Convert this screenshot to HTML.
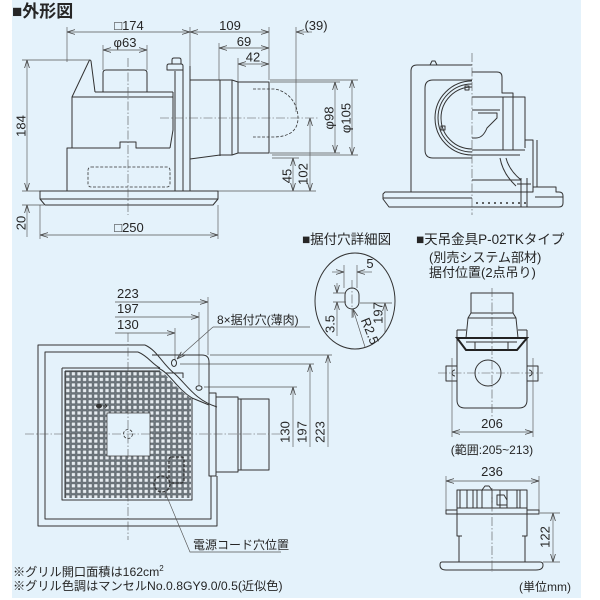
<!DOCTYPE html>
<html><head><meta charset="utf-8">
<style>
html,body{margin:0;padding:0;background:#fff;width:600px;height:600px;overflow:hidden}
svg{display:block}
text{font-family:"Liberation Sans","Noto Sans CJK JP",sans-serif;fill:#262626}
.n{font-size:13px}
.o{fill:none;stroke:#333;stroke-width:1;stroke-linejoin:round}
.d{fill:none;stroke:#555;stroke-width:0.65}
.c{fill:none;stroke:#555;stroke-width:0.6;stroke-dasharray:9 2 1.5 2}
.h{fill:none;stroke:#333;stroke-width:0.8;stroke-dasharray:3 1.6}
</style></head><body>
<svg width="600" height="600" viewBox="0 0 600 600" xmlns="http://www.w3.org/2000/svg">
<defs>
<marker id="a" viewBox="0 0 8 6" refX="8" refY="3" markerWidth="8" markerHeight="6" orient="auto-start-reverse" markerUnits="userSpaceOnUse"><path d="M0,0.6 L8,3 L0,5.4" fill="none" stroke="#444" stroke-width="0.8"/></marker>
<pattern id="g" x="65" y="371" width="5.6" height="5.6" patternUnits="userSpaceOnUse"><rect x="0.6" y="0.6" width="4.4" height="4.4" fill="#e6ecf0" stroke="#5f676d" stroke-width="1.1"/></pattern>
<clipPath id="gc"><path d="M65,371H160C166,374 170,380 176,386C181,391 186,395 191,398V498H65Z"/></clipPath>
</defs>

<rect x="12" y="0" width="569" height="598" fill="#e4f2fb"/>

<text x="12" y="17" font-size="17" font-weight="bold">■外形図</text>

<!-- ===== FRONT VIEW ===== -->
<path class="d" d="M67,27V62 M190,27V66 M269,27V80 M296,27V112 M103,45V70 M147,45V70 M219,43V80 M238,58V82"/>
<line class="d" x1="67" y1="32" x2="190" y2="32" marker-start="url(#a)" marker-end="url(#a)"/>
<text x="129" y="30" class="n" text-anchor="middle">□174</text>
<line class="d" x1="190" y1="32" x2="269" y2="32" marker-start="url(#a)" marker-end="url(#a)"/>
<text x="230" y="30" class="n" text-anchor="middle">109</text>
<line class="d" x1="312" y1="32" x2="296" y2="32" marker-end="url(#a)"/>
<text x="316" y="30" class="n" text-anchor="middle">(39)</text>
<line class="d" x1="219" y1="48" x2="269" y2="48" marker-start="url(#a)" marker-end="url(#a)"/>
<text x="244" y="46" class="n" text-anchor="middle">69</text>
<line class="d" x1="238" y1="64" x2="269" y2="64" marker-start="url(#a)" marker-end="url(#a)"/>
<text x="253" y="61.5" class="n" text-anchor="middle">42</text>
<line class="d" x1="103" y1="50" x2="147" y2="50" marker-start="url(#a)" marker-end="url(#a)"/>
<text x="125" y="47" class="n" text-anchor="middle">φ63</text>

<path class="d" d="M22,60H90 M22,191H40 M22,205H44 M40,205V239 M218,205V239"/>
<line class="d" x1="27" y1="60" x2="27" y2="191" marker-start="url(#a)" marker-end="url(#a)"/>
<line class="d" x1="27" y1="237" x2="27" y2="205" marker-end="url(#a)"/>
<text transform="translate(21,126) rotate(-90)" y="4.5" class="n" text-anchor="middle">184</text>
<text transform="translate(21,223) rotate(-90)" y="4.5" class="n" text-anchor="middle">20</text>
<line class="d" x1="40" y1="235" x2="218" y2="235" marker-start="url(#a)" marker-end="url(#a)"/>
<text x="129" y="232" class="n" text-anchor="middle">□250</text>

<path class="d" d="M270,80H358 M270,82H340 M270,153H340 M272,155H358 M272,158H299 M218,191H316"/>
<line class="d" x1="335" y1="82" x2="335" y2="153" marker-start="url(#a)" marker-end="url(#a)"/>
<line class="d" x1="352" y1="80" x2="352" y2="155" marker-start="url(#a)" marker-end="url(#a)"/>
<line class="d" x1="293" y1="158" x2="293" y2="191" marker-start="url(#a)" marker-end="url(#a)"/>
<line class="d" x1="310" y1="118" x2="310" y2="191" marker-start="url(#a)" marker-end="url(#a)"/>
<text transform="translate(329,118) rotate(-90)" y="4.5" class="n" text-anchor="middle">φ98</text>
<text transform="translate(346,118) rotate(-90)" y="4.5" class="n" text-anchor="middle">φ105</text>
<text transform="translate(287,176) rotate(-90)" y="4.5" class="n" text-anchor="middle">45</text>
<text transform="translate(303,174) rotate(-90)" y="4.5" class="n" text-anchor="middle">102</text>

<g class="o">
<path d="M72,148V97L89,61Q90,59 91,61L95,92"/>
<path d="M95,92H173 M72,97H173"/>
<path d="M103,92V73Q103,70 106,70H144Q147,70 147,73V92"/>
<path d="M173,92V130L170,148"/>
<path d="M67,191V148H120V142H136V148H170"/>
<path d="M175,191V71 M183,191V70 M190,191V66"/>
<path d="M167,70V66Q167,64 169,64H181Q183,64 183,66V70Z"/>
<path d="M172,64V60Q172,58 174,58H179Q181,58 181,60V64"/>
<path d="M40,191H218V199L213,205H45L40,199Z M40,199H218"/>
<path d="M190,80H232L238,82H269V153H238L232,155H220L190,159"/>
<path d="M220,80V156 M232,80V155 M238,82V153"/>
</g>
<rect class="h" x="88" y="167" width="82" height="20" rx="3"/>
<path class="h" d="M253,89H275C290,92 298,105 298,118C298,130 290,137 273,137H253"/>
<line class="c" x1="128" y1="58" x2="128" y2="215"/>
<line class="c" x1="160" y1="118" x2="318" y2="118"/>

<!-- ===== SIDE VIEW ===== -->
<g class="o">
<path d="M472,65H417Q411,65 411,71V192"/>
<path d="M430,65L432,61H435L437,65"/>
<path d="M472,80H433Q425,80 425,88V150Q425,158 433,158H472"/>
<path d="M472,81A37,37 0 0 0 472,155 M472,84A34,34 0 0 0 472,152 M472,87A31,31 0 0 0 472,149"/>
<path d="M465,86h4v4h-4z M441,126h4v4h-4z"/>
<path d="M472,192H385L383,194V199L389,207H472 M383,198H472"/>
<path d="M472,72H497Q502,72 502,77V93H513V97H525V140H533V187"/>
<path d="M472,97H513 M472,110H500 M503,97V150 M513,97V150"/>
<path d="M478,113H497V118L487,128Q483,138 476,138H472"/>
<path d="M472,150H525 M472,155H520 M472,180H521"/>
<path d="M500,158Q503,174 516,186 M506,158Q509,170 521,180"/>
<path d="M537,140V187 M525,140V148"/>
<path d="M472,192H533V187H556V192H559Q563,192 563,196V203Q563,207 559,207H472 M535,197H563"/>
<path d="M521,178V207 M527,178V207 M517,184H531"/>
</g>
<path d="M476,203H530" stroke="#333" stroke-width="1.4" stroke-dasharray="2 4" fill="none"/>
<line class="c" x1="472" y1="53" x2="472" y2="215"/>

<!-- ===== BOTTOM VIEW ===== -->
<text x="117" y="298" class="n">223</text>
<line class="d" x1="115" y1="302" x2="208" y2="302" marker-end="url(#a)"/>
<text x="117" y="313" class="n">197</text>
<line class="d" x1="115" y1="317" x2="199" y2="317" marker-end="url(#a)"/>
<text x="117" y="329" class="n">130</text>
<line class="d" x1="115" y1="333" x2="175" y2="333" marker-end="url(#a)"/>
<path class="d" d="M208,297V355 M199,312V386 M175,328V360"/>

<path class="d" d="M210,355H332 M180,364H314 M204,387H297"/>
<line class="d" x1="328" y1="447" x2="328" y2="355" marker-end="url(#a)"/>
<line class="d" x1="310" y1="447" x2="310" y2="364" marker-end="url(#a)"/>
<line class="d" x1="293" y1="447" x2="293" y2="387" marker-end="url(#a)"/>
<text transform="translate(285,432) rotate(-90)" y="4.5" class="n" text-anchor="middle">130</text>
<text transform="translate(302,432) rotate(-90)" y="4.5" class="n" text-anchor="middle">197</text>
<text transform="translate(320,432) rotate(-90)" y="4.5" class="n" text-anchor="middle">223</text>

<text x="217" y="324" font-size="12">8×据付穴(薄肉)</text>
<path class="d" d="M213,327H310"/>
<line class="d" x1="213" y1="327" x2="177" y2="359" marker-end="url(#a)"/>

<rect x="65" y="371" width="126" height="127" fill="url(#g)" clip-path="url(#gc)"/>
<rect x="107" y="413" width="43" height="43" fill="#e4f2fb" stroke="#444" stroke-width="0.8"/>
<g class="o">
<path d="M145,345H38V526H217V476"/>
<path d="M138,352H45V519H211V476"/>
<path d="M145,345C158,351 162,364 175,374C187,385 195,400 217,407"/>
<path d="M138,352C148,356 152,364 160,368"/>
<path d="M62,368H160 M62,368V500H192V398"/>
<path d="M65,371H160 M65,371V498"/>
<path d="M158,368C170,373 176,388 192,398L209,405"/>
<path d="M152,355H202Q209,355 209,362V393"/>
<path d="M165,373H183V378"/>
<rect x="209" y="393" width="7" height="83"/>
<rect x="216" y="397" width="22" height="75"/>
<rect x="238" y="399" width="31" height="71"/>
<path d="M241,399V470"/>
<ellipse cx="174" cy="363" rx="2.5" ry="3.5"/>
<ellipse cx="199" cy="388" rx="3" ry="2.3"/>
</g>
<ellipse cx="99" cy="406" rx="3" ry="2.3" fill="#333"/>
<path d="M103,406h4 M105,404l2,2-2,2" stroke="#333" stroke-width="0.8" fill="none"/>
<circle class="h" cx="128" cy="434" r="4.5"/>
<rect class="h" x="169" y="457" width="15" height="26" rx="2.5" style="stroke-width:1.3"/>
<circle class="h" cx="162" cy="484" r="8" style="stroke-width:1.3"/>
<line class="c" x1="128" y1="333" x2="128" y2="540"/>
<line class="c" x1="25" y1="434" x2="282" y2="434"/>
<path class="d" d="M165,492L190,552H281"/>
<text x="193" y="549" font-size="12">電源コード穴位置</text>

<!-- ===== DETAIL ===== -->
<text x="302" y="244" font-size="13.5">■据付穴詳細図</text>
<ellipse class="o" cx="355" cy="301" rx="40" ry="48"/>
<rect class="o" x="345" y="288" width="14" height="21" rx="7"/>
<path class="c" d="M352,280V318"/>
<path class="d" d="M344,265V288 M357,265V288"/>
<line class="d" x1="332" y1="272" x2="344" y2="272" marker-end="url(#a)"/>
<line class="d" x1="372" y1="272" x2="357" y2="272" marker-end="url(#a)"/>
<text x="370" y="268" class="n" text-anchor="middle">5</text>
<path class="d" d="M333,293H346 M333,302H346 M360,303H392"/>
<line class="d" x1="337" y1="283" x2="337" y2="293" marker-end="url(#a)"/>
<line class="d" x1="337" y1="336" x2="337" y2="302" marker-end="url(#a)"/>
<text transform="translate(330,324) rotate(-90)" y="4.5" class="n" text-anchor="middle">3.5</text>
<line class="d" x1="385" y1="332" x2="385" y2="303" marker-end="url(#a)"/>
<text transform="translate(378,313) rotate(-90)" y="4.5" class="n" text-anchor="middle">197</text>
<line class="d" x1="365" y1="347" x2="353" y2="309" marker-end="url(#a)"/>
<text transform="translate(370,331) rotate(68)" y="4.5" class="n" text-anchor="middle">R2.5</text>

<!-- ===== P-02TK ===== -->
<text x="416" y="244" font-size="13.5">■天吊金具P-02TKタイプ</text>
<text x="429" y="262" font-size="13">(別売システム部材)</text>
<text x="429" y="277" font-size="13">据付位置(2点吊り)</text>
<g class="o">
<rect x="471" y="293" width="42" height="20"/>
<path d="M471,313H513 M468,318H516"/>
<path d="M471,313L468,318L466,338 M513,313L516,318L518,338"/>
<path d="M457,330V400Q457,408 465,408H519Q527,408 527,400V330"/>
<path d="M457,330H466 M518,330H527"/>
<circle cx="488" cy="373" r="13"/>
<path d="M457,366H446V381H457 M527,366H538V381H527"/>
<path d="M455,370A3,3 0 1 0 455,376 M529,370A3,3 0 1 1 529,376"/>
</g>
<path d="M457,338H527L517,350H466Z" fill="none" stroke="#222" stroke-width="2"/>
<path d="M466,342H517 M475,342V350 M508,342V350" stroke="#333" stroke-width="1" fill="none"/>
<line class="c" x1="492" y1="288" x2="492" y2="418"/>
<line class="c" x1="438" y1="373" x2="543" y2="373"/>
<path class="d" d="M452,358V437 M533,358V437"/>
<line class="d" x1="452" y1="432" x2="533" y2="432" marker-start="url(#a)" marker-end="url(#a)"/>
<text x="492" y="428" class="n" text-anchor="middle">206</text>
<text x="492" y="454" font-size="12" text-anchor="middle">(範囲:205~213)</text>

<!-- ===== bottom-right ===== -->
<path class="d" d="M446,476V512 M539,476V512 M540,513H560 M543,562H560"/>
<line class="d" x1="446" y1="481" x2="539" y2="481" marker-start="url(#a)" marker-end="url(#a)"/>
<text x="492" y="476" class="n" text-anchor="middle">236</text>
<line class="d" x1="553" y1="513" x2="553" y2="562" marker-start="url(#a)" marker-end="url(#a)"/>
<text transform="translate(545,537) rotate(-90)" y="4.5" class="n" text-anchor="middle">122</text>
<g class="o">
<path d="M442,562H540Q543,562 543,565Q543,570 536,570H446Q440,570 440,565Q440,562 442,562Z"/>
<path d="M459,562V536H457V508H527V536H525V562"/>
<path d="M457,536H462 M527,536H522 M457,514H527"/>
<path d="M446,510H457V514H446Z M527,510H539V514H527Z"/>
<path d="M457,508V490H527V508"/>
<path d="M460,490V508 M467,490V508 M473,490V508 M477,490V508 M500,490V508 M507,490V508 M517,490V508 M520,490V508"/>
<path d="M482,508V490L485,486H489L492,490V508"/>
<path d="M497,495H504L507,500V505H497Z"/>
</g>
<line class="c" x1="492" y1="488" x2="492" y2="572"/>
<text x="571" y="591" font-size="12" text-anchor="end">(単位mm)</text>

<!-- notes -->
<text x="13" y="576" font-size="12.2">※グリル開口面積は162cm<tspan font-size="8" dy="-5">2</tspan></text>
<text x="13" y="590" font-size="12.2">※グリル色調はマンセルNo.0.8GY9.0/0.5(近似色)</text>
</svg>
</body></html>
